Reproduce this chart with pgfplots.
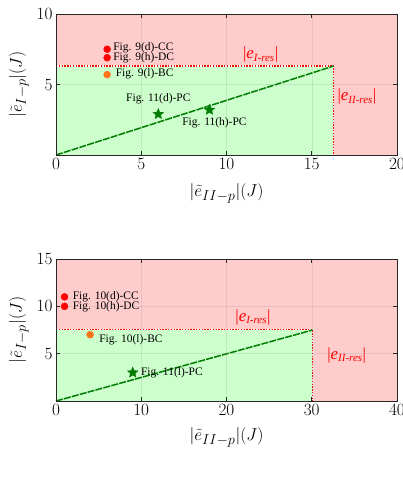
\documentclass[border=0pt]{standalone}
\usepackage{pgfplots}
\pgfplotsset{compat=1.18}
\usepackage{fontspec}
\setmainfont{Liberation Serif}
\definecolor{pinkc}{RGB}{255,204,204}
\definecolor{greenc}{RGB}{204,255,204}
\definecolor{dgreen}{RGB}{0,125,0}
\definecolor{orangec}{RGB}{255,115,25}
\definecolor{redc}{RGB}{255,0,0}
\pgfdeclareplotmark{fstar}{%
\pgfpathmoveto{\pgfpointpolar{90}{\pgfplotmarksize}}%
\pgfpathlineto{\pgfpointpolar{126}{0.45\pgfplotmarksize}}%
\pgfpathlineto{\pgfpointpolar{162}{\pgfplotmarksize}}%
\pgfpathlineto{\pgfpointpolar{198}{0.45\pgfplotmarksize}}%
\pgfpathlineto{\pgfpointpolar{234}{\pgfplotmarksize}}%
\pgfpathlineto{\pgfpointpolar{270}{0.45\pgfplotmarksize}}%
\pgfpathlineto{\pgfpointpolar{306}{\pgfplotmarksize}}%
\pgfpathlineto{\pgfpointpolar{342}{0.45\pgfplotmarksize}}%
\pgfpathlineto{\pgfpointpolar{18}{\pgfplotmarksize}}%
\pgfpathlineto{\pgfpointpolar{54}{0.45\pgfplotmarksize}}%
\pgfpathclose\pgfusepathqfillstroke}
\newcommand{\tfont}{\fontsize{18}{20}\selectfont}
\newcommand{\lfont}{\fontsize{19}{21}\selectfont}
\pgfplotsset{
  myax/.style={
    scale only axis, width=341bp, axis on top,
    axis line style={black!85, line width=0.6bp},
    major tick length=4bp,
    tick style={black!85, line width=0.6bp},
    grid=major, grid style={gray, opacity=0.18, line width=0.4bp},
    xticklabel style={font=\tfont},
    yticklabel style={font=\tfont},
    xlabel={\lfont$|\tilde{e}_{II-p}|(J)$},
    ylabel={\lfont$|\tilde{e}_{I-p}|(J)$},
    ylabel style={at={(axis description cs:-0.07,0.5)}, rotate=0, anchor=south, font=\lfont},
  },
  dotl/.style={redc, line width=1.3bp, dash pattern=on 1.4bp off 1.4bp},
  whl/.style={white, line width=1.3bp},
}
\tikzset{
  ann/.style={font=\fontsize{11.5}{13}\selectfont, inner sep=0pt},
  res/.style={font=\fontsize{17}{19}\selectfont, text=redc, inner sep=0pt},
  captxt/.style={font=\fontsize{18}{20}\selectfont},
}
\newcommand{\eres}[1]{|\textit{e}\textsubscript{\fontsize{11}{12}\selectfont\textit{#1}}|}
\begin{document}
\begin{tikzpicture}
\path[use as bounding box] (0bp,0bp) rectangle (403bp,-483bp);
% ---------- (a)
\begin{axis}[myax, height=141bp, at={(56bp,-14bp)}, anchor=north west,
  xlabel style={at={(axis description cs:0.5,-0.27)}, anchor=center, font=\lfont},
  xmin=0, xmax=20, ymin=0, ymax=10, xtick={0,5,10,15,20}, ytick={5,10}]
\addplot[draw=none, fill=pinkc] coordinates {(0,0) (20,0) (20,10) (0,10)} -- cycle;
\addplot[draw=none, fill=greenc] coordinates {(0,0) (16.28,0) (16.28,6.31) (0,6.31)} -- cycle;
\addplot[whl] coordinates {(0,6.31) (16.28,6.31) (16.28,0)};
\addplot[dotl] coordinates {(0,6.31) (16.28,6.31) (16.28,0)};
\addplot[dgreen, line width=1.5bp, dash pattern=on 7bp off 1.2bp] coordinates {(0,0) (16.28,6.31)};
\addplot[only marks, mark=*, mark size=3.5bp, redc] coordinates {(3,7.5) (3,6.9)};
\addplot[only marks, mark=*, mark size=3.5bp, orangec] coordinates {(3,5.7)};
\addplot[only marks, mark=fstar, mark size=5.5bp, dgreen, mark options={fill=dgreen}] coordinates {(6,2.9) (9,3.2)};
\node[ann, anchor=west] at (axis cs:3.35,7.58) {Fig. 9(d)-CC};
\node[ann, anchor=west] at (axis cs:3.35,6.88) {Fig. 9(h)-DC};
\node[ann, anchor=west] at (axis cs:3.5,5.75) {Fig. 9(l)-BC};
\node[ann, anchor=center] at (axis cs:6.0,4.0) {Fig. 11(d)-PC};
\node[ann, anchor=west] at (axis cs:7.4,2.27) {Fig. 11(h)-PC};
\node[res] at (axis cs:12.0,7.1) {\eres{I-res}};
\node[res] at (axis cs:17.65,4.13) {\eres{II-res}};
\node[captxt] at (axis description cs:0.5,-0.52) {(a)};
\end{axis}
% ---------- (b)
\begin{axis}[myax, height=142bp, at={(56bp,-259bp)}, anchor=north west,
  xlabel style={at={(axis description cs:0.5,-0.255)}, anchor=center, font=\lfont},
  xmin=0, xmax=40, ymin=0, ymax=15, xtick={0,10,20,30,40}, ytick={5,10,15}]
\addplot[draw=none, fill=pinkc] coordinates {(0,0) (40,0) (40,15) (0,15)} -- cycle;
\addplot[draw=none, fill=greenc] coordinates {(0,0) (30.1,0) (30.1,7.57) (0,7.57)} -- cycle;
\addplot[whl] coordinates {(0,7.57) (30.1,7.57) (30.1,0)};
\addplot[dotl] coordinates {(0,7.57) (30.1,7.57) (30.1,0)};
\addplot[dgreen, line width=1.5bp, dash pattern=on 7bp off 1.2bp] coordinates {(0,0) (30.1,7.5)};
\addplot[only marks, mark=*, mark size=3.5bp, redc] coordinates {(1,11) (1,10)};
\addplot[only marks, mark=*, mark size=3.5bp, orangec] coordinates {(4,7)};
\addplot[only marks, mark=fstar, mark size=5.5bp, dgreen, mark options={fill=dgreen}] coordinates {(9,3)};
\node[ann, anchor=west] at (axis cs:1.95,11.05) {Fig. 10(d)-CC};
\node[ann, anchor=west] at (axis cs:1.95,10) {Fig. 10(h)-DC};
\node[ann, anchor=west] at (axis cs:5.05,6.5) {Fig. 10(l)-BC};
\node[ann, anchor=west] at (axis cs:9.95,3.03) {Fig. 11(l)-PC};
\node[res] at (axis cs:23.1,8.84) {\eres{I-res}};
\node[res] at (axis cs:34.1,4.86) {\eres{II-res}};
\node[captxt] at (axis description cs:0.5,-0.451) {(b)};
\end{axis}
\end{tikzpicture}
\end{document}
